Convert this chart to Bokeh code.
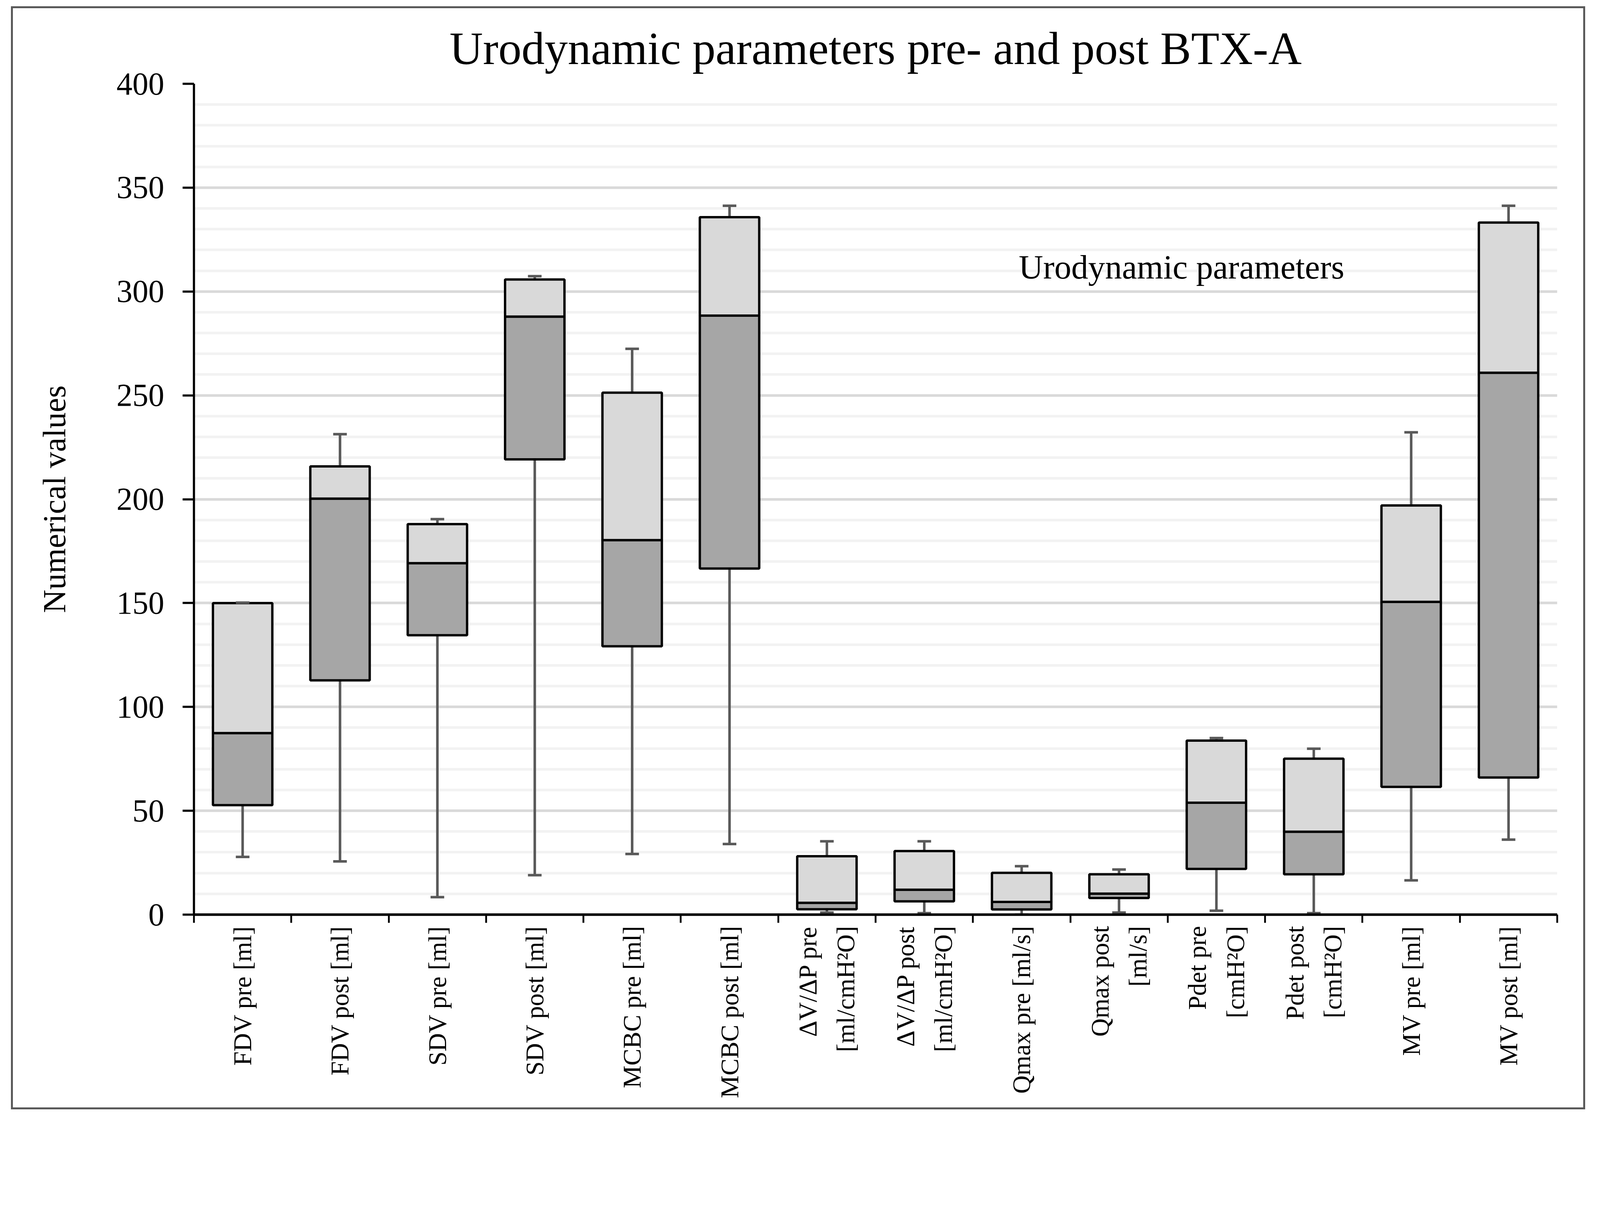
import math
import numpy as np
from bokeh.plotting import figure
from bokeh.models import Range1d, FixedTicker, SingleIntervalTicker, Label, ColumnDataSource
from bokeh.embed import file_html
from bokeh.resources import INLINE

# ---- data ----
labels = ["FDV pre [ml]", "FDV post [ml]", "SDV pre [ml]", "SDV post [ml]",
          "MCBC pre [ml]", "MCBC post [ml]",
          "\u0394V/\u0394P pre\n[ml/cmH\u00b2O]", "\u0394V/\u0394P post\n[ml/cmH\u00b2O]",
          "Qmax pre [ml/s]", "Qmax post\n[ml/s]",
          "Pdet pre\n[cmH\u00b2O]", "Pdet post\n[cmH\u00b2O]",
          "MV pre [ml]", "MV post [ml]"]
mins    = [27.8, 25.6, 8.4, 19.0, 29.2, 34.0, 1.0, 0.7, 0.0, 1.0, 1.9, 0.7, 16.5, 36.1]
q1      = [52.7, 112.8, 134.5, 219.2, 129.2, 166.6, 2.6, 6.4, 2.5, 8.0, 22.0, 19.4, 61.5, 66.0]
medians = [87.4, 200.3, 169.2, 287.9, 180.3, 288.4, 5.7, 12.0, 6.1, 10.1, 53.9, 39.9, 150.6, 260.9]
q3      = [150.0, 215.8, 188.0, 305.8, 251.3, 335.8, 28.1, 30.6, 20.1, 19.4, 83.8, 75.1, 197.0, 333.2]
maxs    = [150.2, 231.3, 190.4, 307.4, 272.4, 341.3, 35.3, 35.3, 23.3, 21.7, 85.0, 79.9, 232.2, 341.3]
y_ticks_interval = 50
title_text = "Urodynamic parameters pre- and post BTX-A"
y_label_text = "Numerical values"
inner_label_text = "Urodynamic parameters"

n = len(labels)
centers = [i + 0.5 for i in range(n)]
bounds = [float(i) for i in range(n + 1)]

src = ColumnDataSource(dict(x=centers, mn=mins, q1=q1, med=medians, q3=q3, mx=maxs))

FONT = "Liberation Serif"
LIGHT = "#d9d9d9"
DARK = "#a6a6a6"
WHISK = "#595959"

p = figure(width=4030, height=2824, output_backend="svg", toolbar_location=None,
           x_range=Range1d(0, n), y_range=Range1d(0, 400),
           min_border_left=463, min_border_right=77, min_border_top=193, min_border_bottom=504)
p.styles = {"border": "5.6px solid #595959", "margin-left": "27.8px", "margin-top": "15.7px"}

p.title.text = title_text
p.title.text_font = FONT
p.title.text_font_size = "118.5px"
p.title.text_font_style = "normal"
p.title.align = "center"
p.title.text_color = "black"
p.title.standoff = 50

p.outline_line_color = None
p.background_fill_color = "white"
p.border_fill_color = "white"

# grids
p.xgrid.grid_line_color = None
yticker = SingleIntervalTicker(interval=y_ticks_interval, num_minor_ticks=5)
p.yaxis.ticker = yticker
p.ygrid.ticker = yticker
p.ygrid.grid_line_color = "#d9d9d9"
p.ygrid.grid_line_width = 6.5
p.ygrid.minor_grid_line_color = "#f2f2f2"
p.ygrid.minor_grid_line_width = 6.5

# y axis
ya = p.yaxis[0]
ya.axis_line_width = 5.6
ya.axis_line_color = "black"
ya.major_tick_line_width = 5.6
ya.major_tick_line_color = "black"
ya.major_tick_out = 29
ya.major_tick_in = 0
ya.minor_tick_line_color = None
ya.major_label_text_font = FONT
ya.major_label_text_font_size = "81.5px"
ya.major_label_text_color = "black"
ya.major_label_standoff = 47
ya.axis_label = y_label_text
ya.axis_label_text_font = FONT
ya.axis_label_text_font_size = "83px"
ya.axis_label_text_font_style = "normal"
ya.axis_label_text_color = "black"
ya.axis_label_standoff = 110

# x axis: ticks at category boundaries, labels at centres
xa = p.xaxis[0]
xa.ticker = FixedTicker(ticks=centers, minor_ticks=bounds)
xa.major_label_overrides = {c: lab for c, lab in zip(centers, labels)}
xa.major_tick_line_color = None
xa.major_tick_out = 0
xa.major_tick_in = 0
xa.minor_tick_line_color = "black"
xa.minor_tick_line_width = 4.6
xa.minor_tick_out = 21
xa.minor_tick_in = 0
xa.axis_line_width = 6.5
xa.axis_line_color = "black"
xa.major_label_orientation = math.pi / 2
xa.major_label_text_font = FONT
xa.major_label_text_font_size = "65px"
xa.major_label_text_color = "black"
xa.major_label_text_line_height = 1.35
xa.major_label_standoff = 8

# whiskers
p.segment(x0="x", y0="q3", x1="x", y1="mx", source=src, line_color=WHISK, line_width=6.5)
p.segment(x0="x", y0="mn", x1="x", y1="q1", source=src, line_color=WHISK, line_width=6.5)

# boxes
BW = 0.61
p.vbar(x="x", width=BW, bottom="q1", top="med", source=src,
       fill_color=DARK, line_color="black", line_width=6)
p.vbar(x="x", width=BW, bottom="med", top="q3", source=src,
       fill_color=LIGHT, line_color="black", line_width=6)

# caps
CW = 0.07
cap_src = ColumnDataSource(dict(
    x0=[c - CW for c in centers] * 2, x1=[c + CW for c in centers] * 2,
    y=list(maxs) + list(mins)))
p.segment(x0="x0", y0="y", x1="x1", y1="y", source=cap_src, line_color=WHISK, line_width=6.5,
          line_cap="butt")

# label inside the plot
p.add_layout(Label(x=8.47, y=311.7, text=inner_label_text, text_font=FONT,
                   text_font_size="86.5px", text_color="black",
                   text_align="left", text_baseline="alphabetic"))

open("out.html", "w").write(file_html(p, INLINE))
